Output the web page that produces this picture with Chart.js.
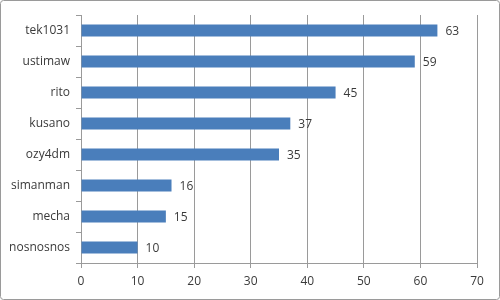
<!DOCTYPE html>
<html>
<head>
<meta charset="utf-8">
<script src="https://cdn.jsdelivr.net/npm/chart.js@4"></script>
<style>
	body { margin: 0; background: #fff; }
	#wrap { width: 500px; height: 300px; }
</style>
</head>
<body>
<div id="wrap"><canvas id="chart"></canvas></div>
<script>
const names = ["tek1031", "ustimaw", "rito", "kusano", "ozy4dm", "simanman", "mecha", "nosnosnos"];
const counts = [63, 59, 45, 37, 35, 16, 15, 10];
const xTicks = [0, 10, 20, 30, 40, 50, 60, 70];

const barColor = "#4a7ebb";
const textColor = "#3a3a3a";

// value labels to the right of each bar
const valueLabels = {
	id: "valueLabels",
	afterDatasetsDraw(chart) {
		const ctx = chart.ctx;
		const meta = chart.getDatasetMeta(0);
		ctx.save();
		ctx.font = "12px 'Open Sans'";
		ctx.fillStyle = textColor;
		ctx.textAlign = "left";
		ctx.textBaseline = "middle";
		meta.data.forEach(function (bar, i) {
			ctx.fillText(counts[i], bar.x + 8, bar.y + 1);
		});
		ctx.restore();
	}
};

// thin frame around the whole chart
const frame = {
	id: "frame",
	beforeDraw(chart) {
		const ctx = chart.ctx;
		ctx.save();
		ctx.strokeStyle = "#9a9a9a";
		ctx.lineWidth = 1;
		ctx.beginPath();
		ctx.roundRect(0.5, 0.5, chart.width - 1, chart.height - 1, 3);
		ctx.stroke();
		ctx.restore();
	}
};

new Chart(document.querySelector("#chart"), {
	type: "bar",
	data: {
		labels: names,
		datasets: [{
			data: counts,
			backgroundColor: barColor,
			borderWidth: 0,
			barPercentage: 0.39,
			categoryPercentage: 1
		}]
	},
	plugins: [valueLabels, frame],
	options: {
		indexAxis: "y",
		responsive: true,
		maintainAspectRatio: false,
		animation: false,
		layout: { padding: { left: 0, right: 23, top: 15, bottom: 0 } },
		plugins: {
			legend: { display: false },
			tooltip: { enabled: false }
		},
		scales: {
			x: {
				min: 0,
				max: 70,
				afterBuildTicks: function (scale) {
					scale.ticks = xTicks.map(function (v) { return { value: v }; });
				},
				grid: { color: "#9a9a9a", tickLength: 5, lineWidth: 1 },
				border: { color: "#9a9a9a" },
				ticks: {
					color: textColor,
					font: { family: "'Open Sans'", size: 12 },
					padding: 6
				},
				afterFit: function (scale) { scale.height = 37; }
			},
			y: {
				grid: { drawOnChartArea: false, color: "#9a9a9a", tickLength: 5, offset: true },
				border: { color: "#9a9a9a" },
				ticks: {
					color: textColor,
					font: { family: "'Open Sans'", size: 12 },
					padding: 6
				},
				afterFit: function (scale) { scale.width = 81; }
			}
		}
	}
});
</script>
</body>
</html>
